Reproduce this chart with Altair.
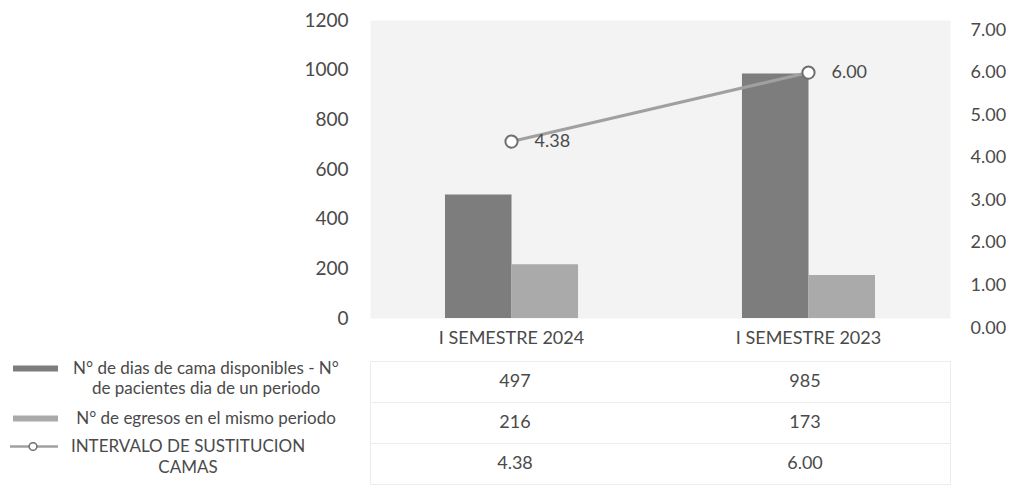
import altair as alt
import pandas as pd

# ---------------- data ----------------
categories = ["I SEMESTRE 2024", "I SEMESTRE 2023"]
row_ids = ["r1", "r2", "r3"]
row_labels = [
    "N° de dias de cama disponibles - N°\nde pacientes dia de un periodo",
    "N° de egresos en el mismo periodo",
    "INTERVALO DE SUSTITUCION\nCAMAS",
]
dias_cama = [497, 985]
egresos = [216, 173]
intervalo = [4.38, 6.00]
left_ticks = [0, 200, 400, 600, 800, 1000, 1200]
right_ticks = [0, 1, 2, 3, 4, 5, 6, 7]

FONT = "Lato"
TEXT = "#4a4a4a"
DARK = "#7d7d7d"
LIGHT = "#aaaaaa"
LINE = "#a0a0a0"

bars = pd.DataFrame({
    "cat": categories * 2,
    "serie": ["dias"] * 2 + ["egresos"] * 2,
    "value": dias_cama + egresos,
})
line = pd.DataFrame({
    "cat": categories,
    "value": intervalo,
    "label": [f"{v:.2f}" for v in intervalo],
})
table_df = pd.DataFrame({
    "row": ["r1"] * 2 + ["r2"] * 2 + ["r3"] * 2,
    "cat": categories * 3,
    "text": [str(v) for v in dias_cama] + [str(v) for v in egresos] + [f"{v:.2f}" for v in intervalo],
})
labels_df = pd.DataFrame({"row": row_ids, "label": row_labels})

# ---------------- scales ----------------
def xscale():
    return alt.Scale(domain=categories, paddingInner=0.552, paddingOuter=0.2525)

x_axis = alt.Axis(title=None, labelFont=FONT, labelFontSize=18, labelColor=TEXT,
                  labelPadding=11, ticks=False, domain=False, labelAngle=0, grid=False)

# ---------------- main chart ----------------
bar_layer = alt.Chart(bars).mark_bar().encode(
    x=alt.X("cat:N", sort=categories, scale=xscale(), axis=x_axis),
    xOffset=alt.XOffset("serie:N", sort=["dias", "egresos"],
                        scale=alt.Scale(domain=["dias", "egresos"], paddingInner=0, paddingOuter=0)),
    y=alt.Y("value:Q", scale=alt.Scale(domain=[0, 1200], nice=False),
            axis=alt.Axis(title=None, values=left_ticks, format="d", orient="left", grid=False,
                          ticks=False, domain=False, labelFontSize=19, labelPadding=22,
                          labelFont=FONT, labelColor=TEXT)),
    color=alt.Color("serie:N", scale=alt.Scale(domain=["dias", "egresos"], range=[DARK, LIGHT]),
                    legend=None),
)

line_base = alt.Chart(line).encode(
    x=alt.X("cat:N", sort=categories, scale=xscale(), axis=x_axis),
    y=alt.Y("value:Q", scale=alt.Scale(domain=[0, 7], nice=False, range=[308, 10]),
            axis=alt.Axis(title=None, orient="right", values=right_ticks, format=".2f", grid=False,
                          ticks=False, domain=False, labelFontSize=18, labelPadding=20,
                          labelFont=FONT, labelColor=TEXT)),
)
line_mark = line_base.mark_line(color=LINE, strokeWidth=3)
line_pts = line_base.mark_point(shape="circle", filled=True, fill="white", stroke="#6f6f6f",
                                strokeWidth=2, size=150, opacity=1)
line_lbl = line_base.mark_text(align="left", baseline="middle", dx=23, fontSize=18, font=FONT,
                               color=TEXT).encode(text="label:N")

top = alt.layer(bar_layer, alt.layer(line_mark, line_pts, line_lbl)).resolve_scale(
    y="independent"
).properties(width=580, height=298,
             view=alt.ViewBackground(fill="#f3f3f3", strokeOpacity=0))

# ---------------- data table (values + row labels with legend keys) ----------------
row_scale = alt.Scale(domain=row_ids, paddingInner=0, paddingOuter=0)
y_rows = alt.Y("row:N", sort=row_ids, scale=row_scale,
               axis=alt.Axis(title=None, labels=False, ticks=False, domain=False, grid=True,
                             gridColor="#ececec", bandPosition=0, minExtent=0, maxExtent=0))

values_txt = alt.Chart(table_df).mark_text(fontSize=18, font=FONT, color=TEXT).encode(
    x=alt.X("cat:N", sort=categories, scale=xscale(), axis=None),
    y=y_rows,
    text="text:N",
)

lab_base = alt.Chart(labels_df).encode(y=y_rows)
txt1 = lab_base.transform_filter("datum.row == 'r1'").mark_text(
    align="center", baseline="middle", lineBreak="\n", lineHeight=20, fontSize=17,
    font=FONT, color=TEXT, dy=-13
).encode(x=alt.value(-164), text="label:N")
txt2 = lab_base.transform_filter("datum.row == 'r2'").mark_text(
    align="center", baseline="middle", fontSize=17, font=FONT, color=TEXT, dy=-4
).encode(x=alt.value(-164), text="label:N")
txt3 = lab_base.transform_filter("datum.row == 'r3'").mark_text(
    align="center", baseline="middle", lineBreak="\n", lineHeight=21, fontSize=17,
    font=FONT, color=TEXT, dy=-17
).encode(x=alt.value(-182), text="label:N")
key1 = lab_base.transform_filter("datum.row == 'r1'").mark_rule(
    color=DARK, strokeWidth=6, yOffset=-13
).encode(x=alt.value(-357), x2=alt.value(-312))
key2 = lab_base.transform_filter("datum.row == 'r2'").mark_rule(
    color=LIGHT, strokeWidth=6, yOffset=-4
).encode(x=alt.value(-357), x2=alt.value(-312))
key3 = lab_base.transform_filter("datum.row == 'r3'").mark_rule(
    color=LINE, strokeWidth=2.5, yOffset=-17
).encode(x=alt.value(-360), x2=alt.value(-312))
key3p = lab_base.transform_filter("datum.row == 'r3'").mark_point(
    shape="circle", filled=True, fill="white", stroke="#6f6f6f", strokeWidth=1.5,
    size=60, opacity=1, yOffset=-17
).encode(x=alt.value(-337))

table = alt.layer(values_txt, key1, key2, key3, key3p, txt1, txt2, txt3).properties(
    width=580, height=123, view=alt.ViewBackground(stroke="#ececec")
)

chart = alt.vconcat(top, table, spacing=12).properties(
    padding={"left": 0, "top": 3, "right": 0, "bottom": 0}
).configure(background="white")

chart.save("out.html", embed_options={"renderer": "svg", "actions": False})
